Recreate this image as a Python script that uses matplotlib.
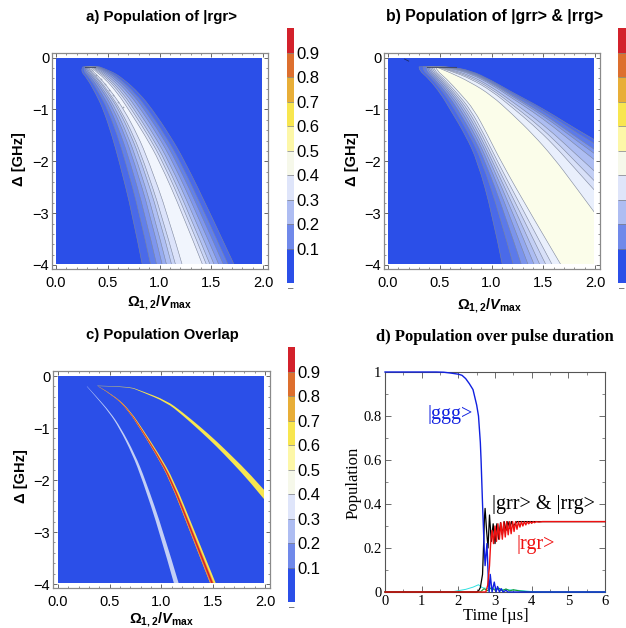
import numpy as np
import matplotlib
matplotlib.use('Agg')
import matplotlib.pyplot as plt
from matplotlib.colors import ListedColormap, BoundaryNorm
from matplotlib.path import Path
from matplotlib.patches import PathPatch, Rectangle
from matplotlib.ticker import MultipleLocator

plt.rcParams['font.family'] = ['Liberation Sans', 'DejaVu Sans']
plt.rcParams['mathtext.fontset'] = 'custom'
plt.rcParams['mathtext.bf'] = 'Liberation Sans:bold'
plt.rcParams['mathtext.bfit'] = 'Liberation Sans:italic:bold'
plt.rcParams['mathtext.rm'] = 'Liberation Sans'

W, H = 626, 628

# colour bar
cbar_edges = [-0.04, 0.1, 0.2, 0.3, 0.4, 0.5, 0.6, 0.7, 0.8, 0.9, 1.0]
cbar_colors = ['#2b4fe8', '#7089ea', '#aebdf2', '#dfe5fa', '#f6f8ea',
               '#fdf7a8', '#f8e64f', '#e8ae38', '#dd6f2e', '#d3212b']
cbar_ticks = [0.1, 0.2, 0.3, 0.4, 0.5, 0.6, 0.7, 0.8, 0.9]

# panel a: contour crossings, outer -> inner, one row per detuning
a_delta = [-0.18, -0.25, -0.4, -0.7, -1.0, -1.5, -2.0, -3.0, -4.0]
a_left = [
    [.26, .275, .285, .295, .303, .312, .318, .33],
    [.235, .258, .275, .29, .302, .316, .326, .345],
    [.30, .327, .347, .365, .379, .396, .408, .43],
    [.385, .42, .444, .468, .486, .507, .522, .55],
    [.457, .499, .528, .556, .578, .604, .621, .655],
    [.54, .593, .63, .665, .693, .725, .748, .79],
    [.61, .67, .713, .753, .784, .821, .847, .895],
    [.736, .807, .858, .906, .943, .987, 1.017, 1.075],
    [.834, .915, .973, 1.027, 1.069, 1.118, 1.156, 1.22],
]
a_right = [
    [.42, .405, .393, .381, .37, .359, .35, .34],
    [.52, .492, .469, .447, .425, .406, .389, .37],
    [.645, .612, .586, .56, .535, .512, .492, .47],
    [.81, .77, .739, .708, .677, .65, .626, .60],
    [.93, .886, .852, .819, .785, .755, .729, .70],
    [1.10, 1.054, 1.019, .984, .949, .917, .89, .86],
    [1.245, 1.198, 1.162, 1.126, 1.09, 1.058, 1.03, 1.0],
    [1.49, 1.439, 1.399, 1.359, 1.32, 1.284, 1.253, 1.22],
    [1.723, 1.665, 1.62, 1.575, 1.53, 1.49, 1.455, 1.417],
]
a_colors = ['#4a6ae9', '#6280ea', '#7e96ee', '#97acf1', '#b0c0f4',
            '#c8d4f7', '#dce3fa', '#f1f5fd']
a_ridge_om = [.35, .39, .43, .47, .51, .55, .60, .65]
a_ridge_de = [-.25, -.33, -.42, -.52, -.62, -.72, -.85, -.95]
a_cap_om = [.28, .38]
a_cap_de = [-.19, -.19]

# panel b: left crossings per detuning, right crossings per omega
b_delta = [-0.18, -0.25, -0.4, -0.7, -1.0, -1.5, -2.0, -3.0, -4.0]
b_left = [
    [.30, .34, .372, .387, .401, .413, .427, .441, .46],
    [.30, .335, .362, .381, .397, .413, .429, .446, .47],
    [.39, .422, .445, .465, .483, .499, .516, .535, .56],
    [.51, .546, .572, .594, .614, .632, .651, .672, .70],
    [.60, .643, .675, .701, .725, .748, .771, .796, .83],
    [.75, .79, .82, .845, .867, .888, .91, .933, .965],
    [.865, .907, .938, .964, .988, 1.009, 1.032, 1.057, 1.09],
    [1.005, 1.074, 1.126, 1.168, 1.207, 1.243, 1.28, 1.32, 1.375],
    [1.105, 1.211, 1.29, 1.355, 1.414, 1.469, 1.527, 1.588, 1.672],
]
b_omega = [.5, .6, .8, 1.0, 1.2, 1.4, 1.6, 1.8, 2.0]
b_right = [
    [-.17, -.172, -.175, -.178, -.181, -.187, -.193, -.198, -.21],
    [-.18, -.186, -.195, -.201, -.21, -.228, -.242, -.256, -.29],
    [-.25, -.263, -.281, -.294, -.314, -.35, -.38, -.41, -.48],
    [-.44, -.457, -.479, -.495, -.52, -.566, -.604, -.642, -.73],
    [-.67, -.694, -.727, -.75, -.786, -.852, -.908, -.962, -1.09],
    [-.88, -.914, -.961, -.995, -1.046, -1.14, -1.22, -1.297, -1.48],
    [-1.11, -1.157, -1.221, -1.267, -1.337, -1.465, -1.575, -1.68, -1.93],
    [-1.36, -1.423, -1.509, -1.57, -1.665, -1.836, -1.984, -2.125, -2.46],
    [-1.59, -1.67, -1.78, -1.86, -1.98, -2.2, -2.39, -2.57, -3.0],
]
b_colors = ['#4a6ae9', '#5c7aea', '#7b94ec', '#94a9f0', '#adbdf2',
            '#c3cff5', '#d8e0f8', '#e9effc', '#fbfdea']
b_cap_om = [.38, .66]
b_cap_de = [-.185, -.185]

# panel c: three overlap ridges
c1_delta = [-.2, -.4, -.7, -1.0, -1.5, -2.0, -3.0, -4.0]
c1_omega = [.28, .37, .50, .60, .73, .83, 1.0, 1.145]
c1_width = [.002, .004, .006, .008, .012, .015, .019, .023]
c2_delta = [-.2, -.4, -.7, -1.0, -1.5, -2.0, -3.0, -4.0]
c2_omega = [.39, .56, .70, .80, .96, 1.10, 1.30, 1.50]
c2_width = [.002, .005, .008, .011, .015, .019, .023, .027]
c3_omega = [.38, .68, .8, 1.05, 1.2, 1.37, 1.53, 1.69, 1.85, 2.0]
c3_delta = [-.19, -.2, -.29, -.49, -.72, -1.01, -1.3, -1.62, -1.95, -2.3]
c3_width = [.003, .004, .008, .018, .028, .04, .05, .06, .075, .09]

# panel d: populations over the pulse
t_ggg = [0, 1.4, 1.6, 1.8, 2.0, 2.1, 2.2, 2.3, 2.4, 2.5, 2.55, 2.6, 2.62, 2.66, 2.7, 2.73, 2.78,
         2.82, 2.84, 2.87, 2.92, 2.98, 3.03, 3.07, 3.12, 3.17, 3.22, 3.3, 3.35, 6]
y_ggg = [1, 1, .999, .995, .99, .985, .97, .947, .92, .85, .80, .68, .60, .40, .22, .12, .22,
         .05, 0, .08, 0, .045, 0, .025, 0, .015, 0, .008, 0, 0]
t_grr = [0, 2.5, 2.55, 2.6, 2.66, 2.69, 2.71, 2.73, 2.77, 2.81, 2.85, 2.9, 2.95, 3.0, 3.05,
         3.1, 3.15, 3.2, 3.25, 3.3, 3.35, 3.4, 3.45, 3.5, 3.6, 3.8, 6]
y_grr = [0, 0, .005, .02, .08, .22, .33, .38, .28, .20, .35, .23, .31, .22, .31,
         .24, .315, .26, .32, .28, .32, .29, .32, .30, .32, .32, .32]
t_rgr = [0, 2.75, 2.8, 2.85, 2.88, 2.92, 2.96, 3.0, 3.04, 3.08, 3.12, 3.16, 3.2, 3.24, 3.28,
         3.32, 3.36, 3.4, 3.44, 3.48, 3.52, 3.56, 3.6, 3.64, 3.68, 3.72, 3.76, 3.8, 3.84,
         3.88, 3.92, 3.96, 4.0, 4.04, 4.08, 4.12, 4.2, 4.3, 6]
y_rgr = [0, 0, .03, .12, .22, .28, .22, .30, .23, .31, .24, .315, .24, .318, .25,
         .32, .26, .32, .265, .32, .275, .32, .285, .32, .295, .32, .30, .32, .305,
         .32, .31, .32, .312, .32, .315, .32, .318, .32, .32]
t_cyan = [0, 1.8, 2.2, 2.4, 2.55, 2.65, 2.8, 3.2, 3.6, 4.0, 4.3, 6]
y_cyan = [0, 0, .012, .022, .033, .02, .015, .012, .008, .002, 0, 0]
t_green = [0, 2.6, 2.7, 2.8, 2.9, 3.0, 3.1, 3.2, 3.3, 3.4, 3.5, 3.7, 4.0, 6]
y_green = [0, 0, .015, .006, .02, .008, .018, .006, .014, .005, .01, .004, 0, 0]


def axes_px(x0, y0, x1, y1):
    return fig.add_axes([x0 / W, 1 - y1 / H, (x1 - x0) / W, (y1 - y0) / H])


def text_px(x, y, s, **kw):
    fig.text(x / W, 1 - y / H, s, **kw)


def side(x, y):
    # bezier side of a region, the read points are its control points
    pts = np.column_stack([x, y])
    verts = [pts[0]]
    codes = [Path.LINETO]
    for i in range(1, len(pts) - 1):
        end = pts[i + 1] if i == len(pts) - 2 else (pts[i] + pts[i + 1]) / 2
        verts += [pts[i], end]
        codes += [Path.CURVE3, Path.CURVE3]
    return verts, codes


def region(ax, sides, **kw):
    verts, codes = [], []
    for x, y in sides:
        v, c = side(x, y)
        verts += v
        codes += c
    codes[0] = Path.MOVETO
    verts.append(verts[0])
    codes.append(Path.CLOSEPOLY)
    patch = PathPatch(Path(verts, codes), **kw)
    ax.add_patch(patch)
    # keep the outline off the edge of the plot range
    patch.set_clip_path(Rectangle((0, -3.985), 1.995, 3.985, transform=ax.transData))


def map_axes(x0, y0, x1, y1, px0, px2, py0, py4):
    ax = axes_px(x0, y0, x1, y1)
    sx = (px2 - px0) / 2.0
    sy = (py4 - py0) / 4.0
    ax.set_xlim((x0 - px0) / sx, (x1 - px0) / sx)
    ax.set_ylim(-(y1 - py0) / sy, -(y0 - py0) / sy)
    ax.add_patch(Rectangle((0, -3.985), 1.995, 3.985, color='#2b4fe8', lw=0, zorder=1))
    ax.xaxis.set_minor_locator(MultipleLocator(0.1))
    ax.yaxis.set_minor_locator(MultipleLocator(0.2))
    ax.set_xticks([0, .5, 1, 1.5, 2])
    ax.set_xticklabels(['0.0', '0.5', '1.0', '1.5', '2.0'])
    ax.set_yticks([0, -1, -2, -3, -4])
    ax.set_yticklabels(['0', '\u22121', '\u22122', '\u22123', '\u22124'])
    ax.tick_params(which='major', direction='in', length=3, width=.7, color='#666666',
                   top=True, right=True, labelsize=10.5)
    ax.tick_params(axis='x', which='major', pad=5)
    ax.tick_params(axis='y', which='major', pad=2)
    ax.tick_params(which='minor', direction='in', length=1.5, width=.5, color='#666666',
                   top=True, right=True)
    for s in ax.spines.values():
        s.set_color('#8a8a8a')
        s.set_linewidth(.9)
    return ax


def colorbar(x0, y0, x1, y1, labels=True):
    cax = axes_px(x0, y0, x1, y1)
    cmap = ListedColormap(cbar_colors)
    norm = BoundaryNorm(cbar_edges, cmap.N)
    mids = np.array(cbar_edges[:-1]) + 0.01
    cax.pcolormesh([0, 1], cbar_edges, mids[:, None], cmap=cmap, norm=norm)
    cax.hlines(cbar_ticks, 0, 1, color='#808080', lw=.5)
    cax.set_xlim(0, 1)
    cax.set_ylim(-0.04, 1.0)
    cax.set_xticks([])
    cax.yaxis.tick_right()
    cax.set_yticks(cbar_ticks)
    if labels:
        cax.set_yticklabels(['%.1f' % v for v in cbar_ticks])
    else:
        cax.set_yticklabels([])
    cax.tick_params(length=0, labelsize=12, pad=1.5)
    for s in cax.spines.values():
        s.set_visible(False)
    text_px((x0 + x1) / 2, y1 + 5, '\u2013', fontsize=7, color='#555555', ha='center', va='center')


fig = plt.figure(figsize=(W / 100, H / 100), dpi=100)
xlab = r'$\mathbf{\Omega_{1,2}/}\mathbfit{V}_{\mathbf{max}}$'
edge = '#7d869c'

# a)
ax = map_axes(52, 53, 268, 269, 56, 263, 57.5, 265)
de = np.array(a_delta)
left = np.array(a_left)
right = np.array(a_right)
for k in range(left.shape[1]):
    region(ax, [(left[:, k], de), (right[::-1, k], de[::-1])], facecolor=a_colors[k],
           edgecolor=edge, lw=.4, zorder=2 + k)
ax.scatter(a_ridge_om, a_ridge_de, s=1.5, color='#9aa3b8', lw=0, zorder=20)
ax.plot(a_cap_om, a_cap_de, color='#3a4058', lw=.8, alpha=.8, zorder=20)
text_px(162, 17, 'a) Population of |rgr>', fontsize=10.8, fontweight='bold', ha='center', va='center')
text_px(159, 303, xlab, fontsize=10.5, ha='center', va='center')
text_px(19, 159, '\u0394 [GHz]', fontsize=10.5, fontweight='bold', rotation=90, ha='center', va='center')
colorbar(287, 28, 294, 283)

# b)
ax = map_axes(384, 53, 600, 269, 388, 595, 57.5, 265)
de = np.array(b_delta)
left = np.array(b_left)
om = np.array(b_omega)
right = np.array(b_right)
for k in range(left.shape[1]):
    region(ax, [(left[:, k], de), (om[-1:], de[-1:]), (om[::-1], right[::-1, k])],
           facecolor=b_colors[k], edgecolor=edge, lw=.4, zorder=2 + k)
ax.plot(b_cap_om, b_cap_de, color='#3a4058', lw=.8, alpha=.8, zorder=20)
ax.plot([.16, .2], [-.03, -.07], color='#1c2a66', lw=.6, zorder=20)
text_px(495, 17, 'b) Population of |grr> & |rrg>', fontsize=11.4, fontweight='bold', ha='center', va='center')
text_px(489, 306, xlab, fontsize=10.5, ha='center', va='center')
text_px(352, 159, '\u0394 [GHz]', fontsize=10.5, fontweight='bold', rotation=90, ha='center', va='center')
colorbar(618, 28, 626, 283, labels=False)

# c)
ax = map_axes(53, 371, 270, 588, 58, 265, 376, 584)
d1 = np.array(c1_delta)
o1 = np.array(c1_omega)
w1 = np.array(c1_width)
region(ax, [(o1 - w1, d1), ((o1 + w1)[::-1], d1[::-1])], facecolor='#c3cff5', lw=0, zorder=3)
d2 = np.array(c2_delta)
o2 = np.array(c2_omega)
w2 = np.array(c2_width)
region(ax, [(o2 - w2, d2), ((o2 + w2)[::-1], d2[::-1])], facecolor='#f8e64f', lw=0, zorder=3)
region(ax, [(o2 - w2, d2), ((o2 + .3 * w2)[::-1], d2[::-1])], facecolor='#e8863a', lw=0, zorder=4)
region(ax, [(o2 - .6 * w2, d2), (o2[::-1], d2[::-1])], facecolor='#d3212b', lw=0, zorder=5)
o3 = np.array(c3_omega)
d3 = np.array(c3_delta)
w3 = np.array(c3_width)
region(ax, [(o3, d3 - w3), (o3[::-1], (d3 + w3)[::-1])], facecolor='#f8e64f', lw=0, zorder=3)
text_px(162, 335, 'c) Population Overlap', fontsize=10.7, fontweight='bold', ha='center', va='center')
text_px(161, 620, xlab, fontsize=10.5, ha='center', va='center')
text_px(21, 476, '\u0394 [GHz]', fontsize=10.5, fontweight='bold', rotation=90, ha='center', va='center')
colorbar(288, 347, 295, 602)

# d)
serif = ['Liberation Serif', 'DejaVu Serif']
ax = axes_px(385, 372, 605, 592)
ax.plot(t_cyan, y_cyan, color='#30e0e0', lw=.7, zorder=3, clip_on=False)
ax.plot(t_green, y_green, color='#1a9a2a', lw=.8, zorder=3, clip_on=False)
ax.plot(t_grr, y_grr, color='black', lw=.9, zorder=3, clip_on=False)
ax.plot(t_ggg, y_ggg, color='#1020e0', lw=1.0, zorder=3, clip_on=False)
ax.plot(t_rgr, y_rgr, color='#f01010', lw=1.0, zorder=3, clip_on=False)
ax.set_xlim(0, 6)
ax.set_ylim(0, 1)
ax.xaxis.set_minor_locator(MultipleLocator(0.5))
ax.yaxis.set_minor_locator(MultipleLocator(0.1))
ax.set_xticks([0, 1, 2, 3, 4, 5, 6])
ax.set_xticklabels(['0', '1', '2', '3', '4', '5', '6'], family=serif)
ax.set_yticks([0, .2, .4, .6, .8, 1])
ax.set_yticklabels(['0', '0.2', '0.4', '0.6', '0.8', '1'], family=serif)
ax.tick_params(which='major', direction='in', length=4, width=.6, color='#555555',
               top=True, right=True, labelsize=10.5, pad=2.5)
ax.tick_params(which='minor', direction='in', length=2, width=.5, color='#555555',
               top=True, right=True)
for s in ax.spines.values():
    s.set_color('#555555')
    s.set_linewidth(.8)
text_px(495, 337, 'd) Population over pulse duration', fontsize=12, fontweight='bold',
        family=serif, ha='center', va='center')
text_px(496, 616, 'Time [\u00b5s]', fontsize=12, family=serif, ha='center', va='center')
text_px(354, 483, 'Population', fontsize=12, family=serif, rotation=90, ha='center', va='center')
text_px(450, 415, '|ggg>', fontsize=14.5, color='#1020e0', family=serif, ha='center', va='center')
text_px(543, 505, '|grr> & |rrg>', fontsize=14.5, color='black', family=serif, ha='center', va='center')
text_px(536, 544, '|rgr>', fontsize=14.5, color='#f01010', family=serif, ha='center', va='center')

fig.savefig('out.png', dpi=100)
